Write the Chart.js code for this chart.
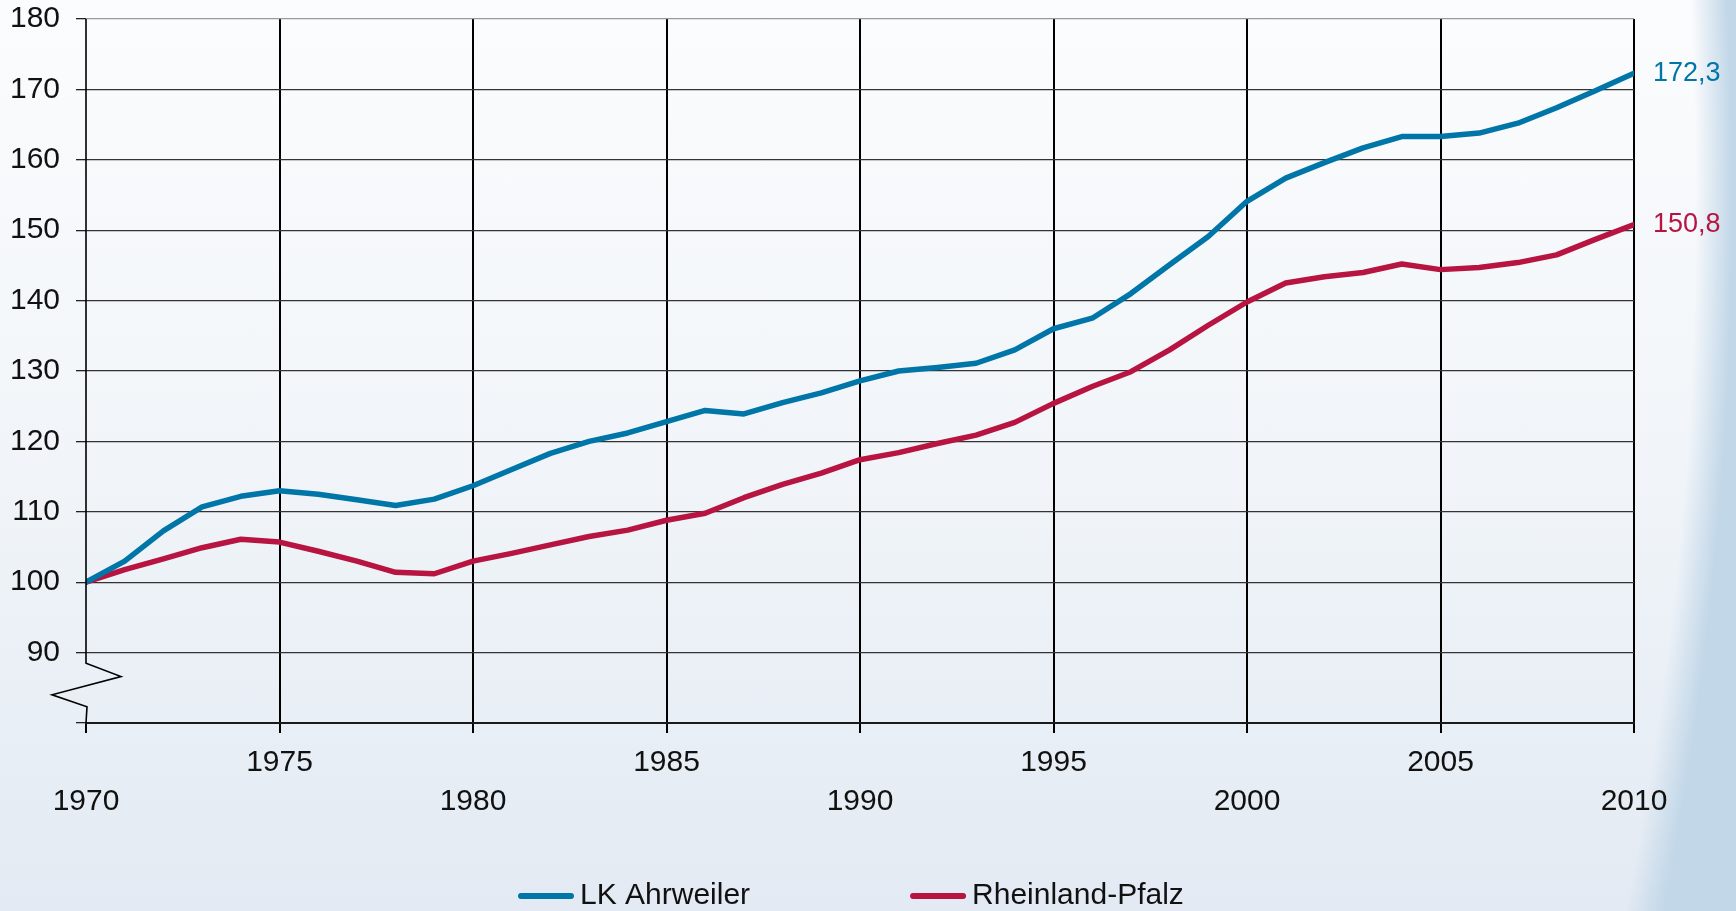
<!DOCTYPE html>
<html lang="de">
<head>
<meta charset="utf-8">
<title>Bevölkerungsentwicklung 1970–2010</title>
<script src="https://cdn.jsdelivr.net/npm/chart.js@4/dist/chart.umd.min.js"></script>
<style>
  html, body { margin: 0; padding: 0; overflow: hidden; }
  body {
    width: 1736px; height: 911px;
    background:
      radial-gradient(1044px 2000px at 688px 200px, rgba(195,216,233,0) 96.5%, #c2d7e8 100%),
      linear-gradient(to bottom, #fbfcfd 0%, #f1f5f9 50%, #e3eaf3 100%);
  }
  #wrap { position: relative; width: 1736px; height: 911px; }
</style>
</head>
<body>
<div id="wrap"><canvas id="chart"></canvas></div>
<script>
// ── Daten (Index 1970 = 100) ──
const years = [
  1970, 1971, 1972, 1973, 1974, 1975, 1976, 1977, 1978, 1979,
  1980, 1981, 1982, 1983, 1984, 1985, 1986, 1987, 1988, 1989,
  1990, 1991, 1992, 1993, 1994, 1995, 1996, 1997, 1998, 1999,
  2000, 2001, 2002, 2003, 2004, 2005, 2006, 2007, 2008, 2009, 2010
];
const lkAhrweiler = [
  100.0, 103.0, 107.3, 110.7, 112.2, 113.0, 112.5, 111.7, 110.9, 111.8,
  113.7, 116.0, 118.3, 120.0, 121.2, 122.8, 124.4, 123.9, 125.5, 126.9,
  128.6, 130.0, 130.5, 131.1, 133.0, 136.0, 137.5, 141.0, 145.1, 149.1,
  154.1, 157.4, 159.6, 161.7, 163.3, 163.3, 163.8, 165.2, 167.4, 169.8, 172.3
];
const rheinlandPfalz = [
  100.0, 101.8, 103.3, 104.9, 106.1, 105.7, 104.4, 103.0, 101.4, 101.2,
  103.0, 104.1, 105.3, 106.5, 107.4, 108.8, 109.8, 112.0, 113.9, 115.5,
  117.4, 118.4, 119.7, 120.9, 122.7, 125.4, 127.8, 129.9, 133.0, 136.5,
  139.8, 142.5, 143.4, 144.0, 145.2, 144.4, 144.7, 145.4, 146.5, 148.7, 150.8
];
const seriesNames = ['LK Ahrweiler', 'Rheinland-Pfalz'];
const seriesColors = ['#0075a8', '#b71441'];
const yTicks = [80, 90, 100, 110, 120, 130, 140, 150, 160, 170, 180];

const FONT = '"Liberation Sans", Arial, sans-serif';
const fmt = v => v.toFixed(1).replace('.', ',');

// ── Zusatzelemente: Achsenbruch, Endwerte, Legende ──
const decor = {
  id: 'decor',
  afterDatasetsDraw(chart) {
    const { ctx } = chart;
    ctx.save();
    ctx.font = '27px ' + FONT;
    ctx.textAlign = 'left';
    ctx.textBaseline = 'middle';
    chart.data.datasets.forEach((ds, i) => {
      const pts = chart.getDatasetMeta(i).data;
      const p = pts[pts.length - 1];
      ctx.fillStyle = ds.borderColor;
      ctx.fillText(fmt(ds.data[ds.data.length - 1].y), p.x + 19, p.y);
    });
    ctx.restore();
  },
  afterDraw(chart) {
    const { ctx, chartArea: a, scales: { y } } = chart;
    ctx.save();
    // linke Achse mit Bruch zwischen 90 und 80
    ctx.strokeStyle = '#000';
    ctx.lineWidth = 1.6;
    ctx.beginPath();
    ctx.moveTo(a.left, a.top);
    ctx.lineTo(a.left, y.getPixelForValue(88.5));
    ctx.lineTo(a.left + 35, y.getPixelForValue(86.6));
    ctx.lineTo(a.left - 34, y.getPixelForValue(84.0));
    ctx.lineTo(a.left + 1, y.getPixelForValue(82.3));
    ctx.lineTo(a.left, a.bottom);
    ctx.stroke();

    // Legende
    const ly = 896, lineLen = 56, gap = 6, itemGap = 160;
    let x = 518;
    ctx.font = '30px ' + FONT;
    ctx.textBaseline = 'middle';
    ctx.textAlign = 'left';
    ctx.lineCap = 'round';
    chart.data.datasets.forEach(ds => {
      ctx.strokeStyle = ds.borderColor;
      ctx.lineWidth = 6;
      ctx.beginPath();
      ctx.moveTo(x + 3, ly);
      ctx.lineTo(x + lineLen - 3, ly);
      ctx.stroke();
      ctx.fillStyle = '#111';
      ctx.fillText(ds.label, x + lineLen + gap, ly);
      x += lineLen + gap + ctx.measureText(ds.label).width + itemGap;
    });
    ctx.restore();
  }
};

new Chart(document.getElementById('chart'), {
  type: 'line',
  data: {
    datasets: [lkAhrweiler, rheinlandPfalz].map((vals, i) => ({
      label: seriesNames[i],
      data: years.map((yr, k) => ({ x: yr, y: vals[k] })),
      borderColor: seriesColors[i],
      backgroundColor: seriesColors[i],
      borderWidth: 5.5,
      borderCapStyle: 'round',
      borderJoinStyle: 'round',
      pointRadius: 0,
      tension: 0,
    }))
  },
  options: {
    responsive: true, maintainAspectRatio: false,
    animation: false,
    events: [],
    layout: { padding: { top: 19, right: 102, left: 0, bottom: 0 } },
    plugins: { legend: { display: false }, tooltip: { enabled: false } },
    scales: {
      x: {
        type: 'linear', min: years[0], max: years[years.length - 1],
        afterFit: s => { s.height = 188; s.paddingLeft = 0; s.paddingRight = 0; },
        border: { display: true, color: '#1a1a1a', width: 2 },
        grid: {
          color: c => c.tick && c.tick.value === years[0] ? 'rgba(0,0,0,0)' : '#000',
          tickColor: '#000',
          lineWidth: 2,
          tickLength: 10,
        },
        ticks: {
          stepSize: 5, autoSkip: false, maxRotation: 0, padding: 10,
          color: '#111',
          font: { family: FONT, size: 30, lineHeight: 1.3 },
          callback: v => (v % 10 === 0) ? ['', String(v)] : [String(v), ''],
        }
      },
      y: {
        min: yTicks[0], max: yTicks[yTicks.length - 1],
        afterFit: s => { s.width = 86; s.paddingTop = 0; s.paddingBottom = 0; },
        border: { display: false },
        grid: {
          color: c => c.tick && c.tick.value === yTicks[yTicks.length - 1] ? '#9a9a9a' : '#333',
          tickColor: '#222',
          lineWidth: 1.3,
          tickLength: 10,
        },
        afterBuildTicks: s => { s.ticks = yTicks.map(v => ({ value: v })); },
        ticks: {
          padding: 16,
          color: '#111',
          font: { family: FONT, size: 30 },
          callback: v => v === yTicks[0] ? '' : String(v),
        }
      }
    }
  },
  plugins: [decor]
});
</script>
</body>
</html>
